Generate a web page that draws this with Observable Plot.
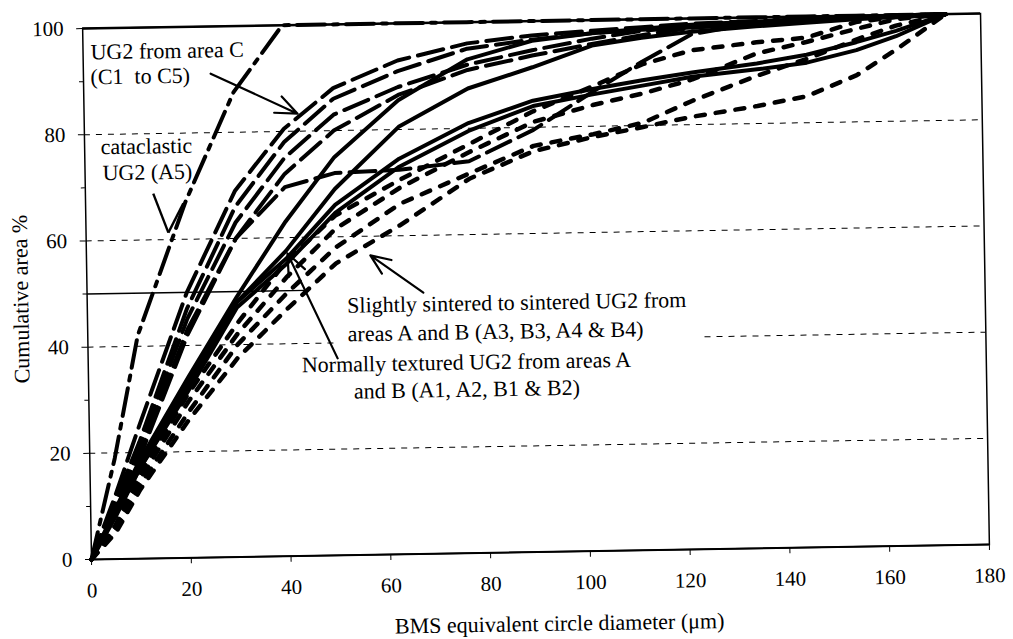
<!DOCTYPE html>
<html>
<head>
<meta charset="utf-8">
<script src="https://cdn.jsdelivr.net/npm/d3@7"></script>
<script src="https://cdn.jsdelivr.net/npm/@observablehq/plot@0.6"></script>
<style>
  html, body { margin: 0; padding: 0; background: white; }
  #chart { width: 1013px; height: 639px; overflow: hidden; }
</style>
</head>
<body>
<div id="chart"></div>
<script>
// BMS equivalent circle diameter (µm) – shared size classes
const sizes = [0, 5, 10, 20, 30, 40, 50, 63, 77, 90, 102, 112, 122, 135, 145, 155, 163, 173];

// Cataclastic UG2 (A5) – dash-dot
const A5 = [0, 19, 42, 67, 87.5, 100, 100, 100, 100, 100, 100, 100, 100, 100, 100, 100, 100, 100];

// UG2 from area C (C1 to C5) – long dashes
const C1 = [0, 12, 25, 50, 69, 80.5, 88, 93, 96, 97.3, 98, 98.5, 99, 99.3, 99.5, 99.7, 99.9, 100];
const C2 = [0, 11, 22, 47, 66, 78, 86, 91, 95, 96.5, 97.5, 98.2, 98.8, 99.2, 99.5, 99.7, 99.9, 100];
const C3 = [0, 10, 21, 45, 63, 75, 83, 88, 92, 94.5, 96.5, 97.8, 98.5, 99, 99.4, 99.7, 99.9, 100];
const C4 = [0, 10, 20, 43, 60, 69.5, 72, 72.4, 73.8, 79.5, 86.5, 92, 97, 99, 99.5, 99.7, 99.9, 100];
const C5 = [0, 9, 19, 42, 60, 72, 80, 86.5, 91, 93.5, 95.5, 97, 98.2, 99, 99.4, 99.7, 99.9, 100];

// Normally textured UG2 (A1, A2, B1, B2) – solid
const N1 = [0, 9.5, 18.5, 34, 49, 63, 75, 85.5, 93, 96.3, 97.5, 98, 98.3, 98.8, 99.2, 99.5, 99.8, 100];
const N2 = [0, 9, 18, 33, 48, 57.5, 69, 80.5, 87.5, 91.3, 95.2, 96.5, 97.5, 98.3, 98.8, 99.3, 99.6, 100];
const N3 = [0, 8.5, 17, 32, 48, 56, 66, 74.5, 81, 85, 87, 88.5, 89.8, 91.3, 92.8, 95, 97, 100];
const N4 = [0, 8, 17, 31.5, 47, 55, 64.5, 73, 79.5, 84, 86, 87.5, 89, 90.2, 91.3, 93.5, 96, 100];

// Slightly sintered to sintered UG2 (A3, B3, A4, B4) – short dashes
const D1 = [0, 6.5, 16, 31, 44, 55.5, 64, 70.5, 77, 83, 87.5, 91.5, 94, 95.3, 96, 98.8, 99.6, 100];
const D2 = [0, 6, 15, 29.5, 42, 52.5, 61.5, 69, 75.5, 81, 84, 86, 88.5, 93.2, 95.2, 97.5, 99.2, 100];
const D3 = [0, 5.5, 14, 27.5, 40, 49.5, 58, 66, 71.5, 76.5, 78.5, 80.5, 84.5, 89, 92, 95.5, 98, 100];
const D4 = [0, 5, 13, 26, 37.5, 46.5, 55, 62, 70.5, 75.5, 78, 79.7, 81.5, 83.3, 85, 88.8, 93.5, 100];

// Axes
const xTicks = [0, 20, 40, 60, 80, 100, 120, 140, 160, 180];
const yTicks = [0, 20, 40, 60, 80, 100];
const yMinorTicks = [10, 30, 50, 70, 90];
const gridLevels = [20, 60, 80];
const grid40Segments = [{y: 40, x1: 0, x2: 49.6}, {y: 40, x1: 123.7, x2: 180}];
const refLine50 = [{y: 50, x1: 0, x2: 44}];

// Annotations
const textsLeft = [
  {x: 1.5, y: 95.5, text: "UG2 from area C"},
  {x: 1.4, y: 90.8, text: "(C1  to C5)"},
  {x: 3.2, y: 77.6, text: "cataclastic"},
  {x: 3.5, y: 72.7, text: "UG2 (A5)"},
  {x: 52.1, y: 47.0, text: "Slightly sintered to sintered UG2 from"},
  {x: 52.1, y: 41.6, text: "areas A and B (A3, B3, A4 & B4)"}
];
const textsCentered = [
  {x: 75.8, y: 35.9, text: "Normally textured UG2 from areas A"},
  {x: 75.8, y: 30.8, text: "and B (A1, A2, B1 & B2)"}
];
const arrowsData = [
  {x1: 25.5, y1: 91.1, x2: 42.8, y2: 83.3},
  {x1: 67.4, y1: 49.2, x2: 56.9, y2: 56.4},
  {x1: 50.0, y1: 37.1, x2: 40.3, y2: 57.0}
];
const vArrow = [
  {x1: 13.6, y1: 68.7, x2: 16.5, y2: 61.3},
  {x1: 19.6, y1: 66.8, x2: 16.5, y2: 61.3}
];

function toRows(groups) {
  const rows = [];
  for (const [name, vals] of groups) {
    vals.forEach((v, i) => rows.push({series: name, size: sizes[i], area: v}));
  }
  return rows;
}
const rowsA5 = toRows([["A5", A5]]);
const rowsC = toRows([["C1", C1], ["C2", C2], ["C3", C3], ["C4", C4], ["C5", C5]]);
const rowsN = toRows([["A1", N1], ["A2", N2], ["B1", N3], ["B2", N4]]);
const rowsD = toRows([["A3", D1], ["B3", D2], ["A4", D3], ["B4", D4]]);

const serif = "'Liberation Serif', 'Times New Roman', 'DejaVu Serif', serif";

const chart = Plot.plot({
  width: 1013,
  height: 639,
  marginLeft: 91,
  marginRight: 24,
  marginTop: 28,
  marginBottom: 80,
  x: {domain: [0, 180]},
  y: {domain: [0, 100]},
  style: {fontFamily: serif, fontSize: "21px", color: "black", background: "white", overflow: "visible"},
  marks: [
    Plot.ruleY(gridLevels, {stroke: "black", strokeWidth: 1, strokeDasharray: "6,6"}),
    Plot.ruleY(grid40Segments, {y: "y", x1: "x1", x2: "x2", stroke: "black", strokeWidth: 1, strokeDasharray: "6,6"}),
    Plot.ruleY(refLine50, {y: "y", x1: "x1", x2: "x2", stroke: "black", strokeWidth: 1.4}),
    Plot.line(rowsD, {x: "size", y: "area", z: "series", stroke: "black", strokeWidth: 4.5, strokeDasharray: "9,11"}),
    Plot.line(rowsC, {x: "size", y: "area", z: "series", stroke: "black", strokeWidth: 4, strokeDasharray: "26,9"}),
    Plot.line(rowsA5, {x: "size", y: "area", z: "series", stroke: "black", strokeWidth: 4, strokeDasharray: "28,8,5,8"}),
    Plot.line(rowsN, {x: "size", y: "area", z: "series", stroke: "black", strokeWidth: 4}),
    Plot.frame({stroke: "black", strokeWidth: 1.5}),
    Plot.ruleY([100], {stroke: "black", strokeWidth: 2.5}),
    Plot.ruleY([0], {stroke: "black", strokeWidth: 2}),
    Plot.axisX(xTicks, {tickSize: 6, tickPadding: 17, label: null}),
    Plot.axisY(yTicks, {tickSize: 6, tickPadding: 13, label: null}),
    Plot.axisY(yMinorTicks, {tickSize: 4, tickFormat: () => "", label: null}),
    Plot.text(["BMS equivalent circle diameter (\u03bcm)"], {frameAnchor: "bottom", lineAnchor: "middle", dy: 72, dx: 18, fontSize: 22, fill: "black"}),
    Plot.text(["Cumulative area %"], {frameAnchor: "left", textAnchor: "middle", lineAnchor: "middle", dx: -66, dy: 4, rotate: -90, fontSize: 22, fill: "black"}),
    Plot.text(textsLeft, {x: "x", y: "y", text: "text", textAnchor: "start", fontSize: 22, fill: "black"}),
    Plot.text(textsCentered, {x: "x", y: "y", text: "text", textAnchor: "middle", fontSize: 22, fill: "black"}),
    Plot.arrow(arrowsData, {x1: "x1", y1: "y1", x2: "x2", y2: "y2", stroke: "black", strokeWidth: 2.2, headLength: 16, headAngle: 45}),
    Plot.link(vArrow, {x1: "x1", y1: "y1", x2: "x2", y2: "y2", stroke: "black", strokeWidth: 2.4})
  ]
});
chart.style.transformOrigin = "91px 559px";
chart.style.transform = "rotate(-0.957deg)";
document.getElementById("chart").appendChild(chart);
</script>
</body>
</html>
